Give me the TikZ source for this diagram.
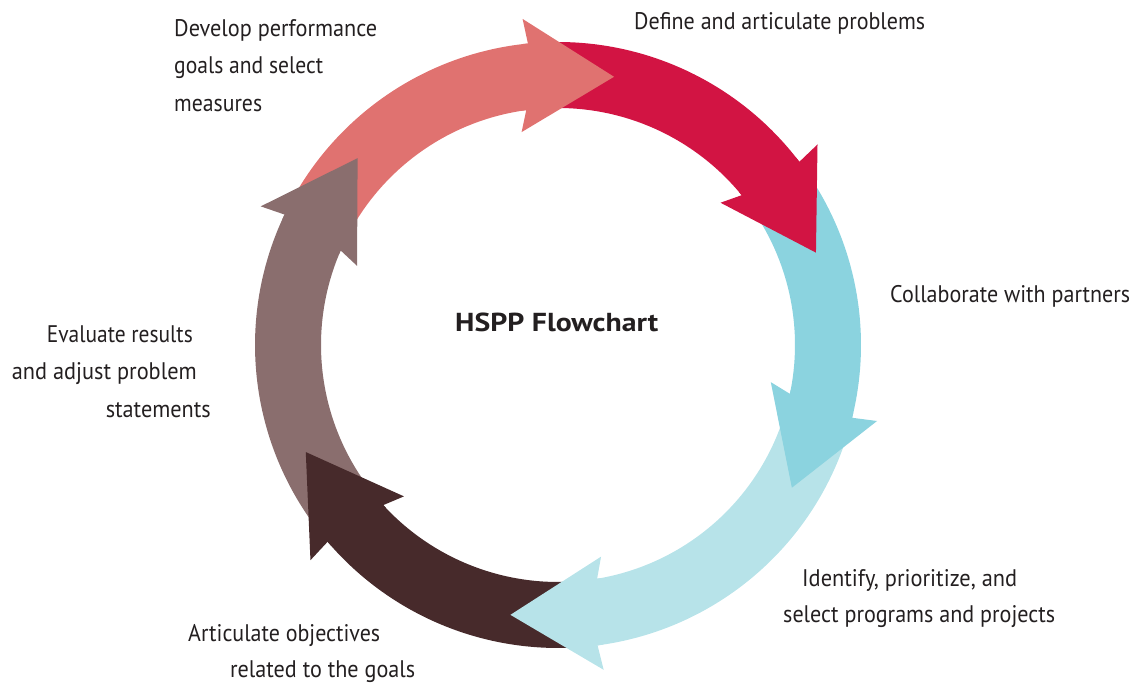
\documentclass[tikz,border=0pt]{standalone}
\usepackage{fontspec}
\setmainfont{PT Sans}
\usepackage{graphicx}
\definecolor{cpink}{HTML}{E07270}
\definecolor{cred}{HTML}{D21443}
\definecolor{ccyan}{HTML}{8BD3DF}
\definecolor{clcyan}{HTML}{B7E3E9}
\definecolor{cdbrown}{HTML}{472A2B}
\definecolor{cmauve}{HTML}{8A6E6E}
\definecolor{ctxt}{HTML}{231F20}
\newcommand{\fitw}[2]{\resizebox{#1}{\height}{#2}}
% body of a ring arrow: tail angle, notch angle
\newcommand{\ringbody}[3]{%
  \fill[#1] (#2:303pt) arc[start angle=#2, end angle=#3, radius=303pt]
    -- ({#3+2}:237pt) arc[start angle={#3+2}, end angle=#2, radius=237pt] -- cycle;}
% head of a ring arrow: notch angle
\newcommand{\ringhead}[2]{%
  \fill[#1] ({#2+1}:303pt) -- (#2:303pt) -- ({#2+0.5}:328pt) -- ({#2-17.5}:274pt)
    -- ({#2+4}:216pt) -- ({#2+2}:237pt) -- ({#2+3}:237pt) -- cycle;}
\tikzset{
  lbl/.style={inner sep=0pt, text=ctxt, font=\fontsize{24}{29}\selectfont},
  ttl/.style={inner sep=0pt, text=ctxt, font=\fontsize{26}{31}\selectfont\bfseries}
}
\begin{document}
\begin{tikzpicture}
\useasboundingbox (0,0) rectangle (1141pt,687pt);
\begin{scope}[shift={(558pt,342pt)}]
  \ringbody{cpink}{151.5}{95.7}
  \ringbody{cred}{92.7}{37.2}
  \ringbody{ccyan}{34.2}{-13.9}
  \ringbody{clcyan}{-16.9}{-82.5}
  \ringbody{cdbrown}{-85.5}{-139.5}
  \ringbody{cmauve}{217.5}{154.5}
  \ringhead{cpink}{95.7}
  \ringhead{cred}{37.2}
  \ringhead{ccyan}{-13.9}
  \ringhead{clcyan}{-82.5}
  \ringhead{cdbrown}{-139.5}
  \ringhead{cmauve}{154.5}
\end{scope}
\node[ttl, anchor=base west] (title) at (455pt,355pt) {\fitw{203pt}{HSPP Flowchart}};
\node[lbl, anchor=base west] (dev1) at (174pt,650pt) {\fitw{203pt}{Develop performance}};
\node[lbl, anchor=base west] (dev2) at (174pt,613pt) {\fitw{149pt}{goals and select}};
\node[lbl, anchor=base west] (dev3) at (174pt,575pt) {\fitw{88pt}{measures}};
\node[lbl, anchor=base west] (def) at (634pt,657pt) {\fitw{291pt}{Define and articulate problems}};
\node[lbl, anchor=base west] (col) at (890pt,384pt) {\fitw{240pt}{Collaborate with partners}};
\node[lbl, anchor=base west] (ide1) at (802pt,100pt) {\fitw{215pt}{Identify, prioritize, and}};
\node[lbl, anchor=base west] (ide2) at (783pt,64pt) {\fitw{272pt}{select programs and projects}};
\node[lbl, anchor=base west] (art1) at (188pt,45pt) {\fitw{192pt}{Articulate objectives}};
\node[lbl, anchor=base west] (art2) at (230pt,9pt) {\fitw{185pt}{related to the goals}};
\node[lbl, anchor=base east] (eva1) at (193pt,344pt) {\fitw{146pt}{Evaluate results}};
\node[lbl, anchor=base east] (eva2) at (197pt,307pt) {\fitw{185pt}{and adjust problem}};
\node[lbl, anchor=base east] (eva3) at (211pt,269pt) {\fitw{105pt}{statements}};
\end{tikzpicture}
\end{document}
